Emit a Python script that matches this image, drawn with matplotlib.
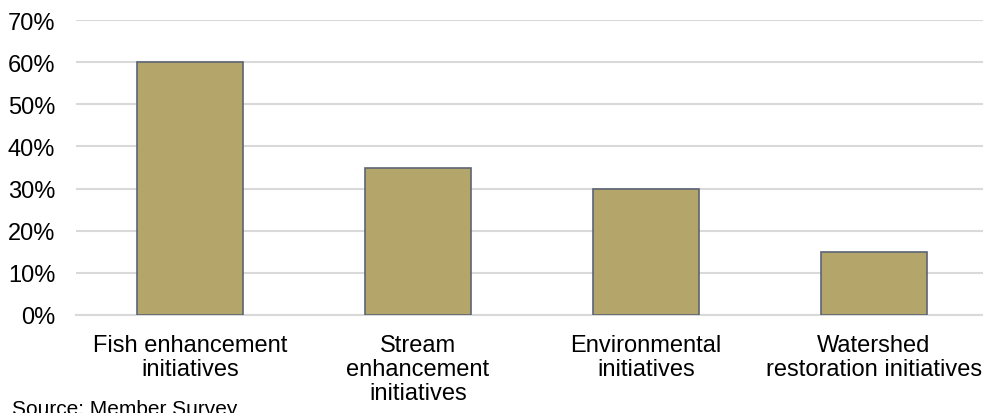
import numpy as np
import matplotlib.pyplot as plt
from matplotlib.ticker import PercentFormatter

plt.rcParams['font.family'] = ['Liberation Sans', 'DejaVu Sans']

# Данные
categories = ['Fish enhancement\ninitiatives', 'Stream\nenhancement\ninitiatives',
              'Environmental\ninitiatives', 'Watershed\nrestoration initiatives']
values = [60, 35, 30, 15]

fig = plt.figure(figsize=(9.83, 4.14), dpi=100)
ax = fig.add_axes([76 / 983, (414 - 316) / 414, (983 - 76) / 983, 295 / 414])

x = np.arange(len(categories))
ax.bar(x, values, width=0.465, color='#b4a66a', edgecolor='#5b6474', linewidth=1.2, zorder=3)

ax.set_ylim(0, 70)
ax.set_yticks(np.arange(0, 71, 10))
ax.yaxis.set_major_formatter(PercentFormatter(decimals=0))
ax.set_xlim(-0.5, 3.5 - 5 / 228)
ax.set_xticks(x)
ax.set_xticklabels(categories, linespacing=1.13)

ax.grid(axis='y', color='#d9d9d9', linewidth=1.5, zorder=0)
for s in ['top', 'right', 'left']:
    ax.spines[s].set_visible(False)
ax.spines['bottom'].set_color('#d9d9d9')
ax.spines['bottom'].set_linewidth(1.5)
ax.tick_params(axis='both', length=0, labelsize=17, colors='#000000')
ax.tick_params(axis='y', pad=15)
ax.tick_params(axis='x', pad=13.5)

# Подпись источника (обрезана снизу, как в оригинале)
fig.text(12 / 983, (414 - 400) / 414, 'Source: Member Survey', fontsize=15, va='top', ha='left')

fig.savefig('out.png', dpi=100)
